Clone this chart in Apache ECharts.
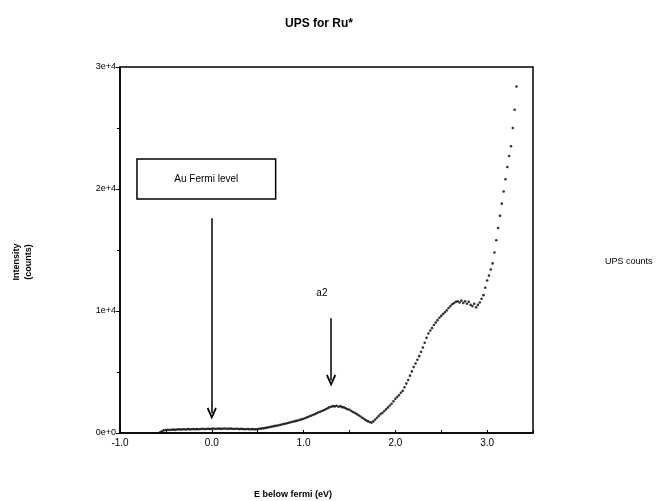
<!DOCTYPE html>
<html>
<head>
<meta charset="utf-8">
<script src="https://cdn.jsdelivr.net/npm/echarts@6/dist/echarts.min.js"></script>
<style>
  html, body { margin: 0; padding: 0; background: #fff; }
  #chart { width: 664px; height: 501px; }
</style>
</head>
<body>
<div id="chart"></div>
<script>
// energy below fermi (eV)
const energy = [
  -0.56, -0.54, -0.52, -0.50, -0.48, -0.46, -0.44, -0.42, -0.40, -0.38,
  -0.36, -0.34, -0.32, -0.30, -0.28, -0.26, -0.24, -0.22, -0.20, -0.18,
  -0.16, -0.14, -0.12, -0.10, -0.08, -0.06, -0.04, -0.02, 0.00, 0.02,
  0.04, 0.06, 0.08, 0.10, 0.12, 0.14, 0.16, 0.18, 0.20, 0.22,
  0.24, 0.26, 0.28, 0.30, 0.32, 0.34, 0.36, 0.38, 0.40, 0.42,
  0.44, 0.46, 0.48, 0.50, 0.52, 0.54, 0.56, 0.58, 0.60, 0.62,
  0.64, 0.66, 0.68, 0.70, 0.72, 0.74, 0.76, 0.78, 0.80, 0.82,
  0.84, 0.86, 0.88, 0.90, 0.92, 0.94, 0.96, 0.98, 1.00, 1.02,
  1.04, 1.06, 1.08, 1.10, 1.12, 1.14, 1.16, 1.18, 1.20, 1.22,
  1.24, 1.26, 1.28, 1.30, 1.32, 1.34, 1.36, 1.38, 1.40, 1.42,
  1.44, 1.46, 1.48, 1.50, 1.52, 1.54, 1.56, 1.58, 1.60, 1.62,
  1.64, 1.66, 1.68, 1.70, 1.72, 1.74, 1.76, 1.78, 1.80, 1.82,
  1.84, 1.86, 1.88, 1.90, 1.92, 1.94, 1.96, 1.98, 2.00, 2.02,
  2.04, 2.06, 2.08, 2.10, 2.12, 2.14, 2.16, 2.18, 2.20, 2.22,
  2.24, 2.26, 2.28, 2.30, 2.32, 2.34, 2.36, 2.38, 2.40, 2.42,
  2.44, 2.46, 2.48, 2.50, 2.52, 2.54, 2.56, 2.58, 2.60, 2.62,
  2.64, 2.66, 2.68, 2.70, 2.72, 2.74, 2.76, 2.78, 2.80, 2.82,
  2.84, 2.86, 2.88, 2.90, 2.92, 2.94, 2.96, 2.98, 3.00, 3.02,
  3.04, 3.06, 3.08, 3.10, 3.12, 3.14, 3.16, 3.18, 3.20, 3.22,
  3.24, 3.26, 3.28, 3.30, 3.32
]

// UPS counts
const counts = [
  80, 150, 220, 250, 260, 240, 270, 280, 260, 290,
  300, 280, 300, 310, 290, 320, 300, 310, 330, 300,
  320, 310, 330, 340, 320, 330, 350, 330, 340, 360,
  330, 350, 360, 340, 350, 370, 350, 340, 360, 350,
  330, 350, 340, 320, 340, 330, 310, 330, 320, 300,
  320, 310, 300, 320, 340, 360, 380, 410, 440, 470,
  500, 530, 560, 590, 620, 660, 690, 730, 760, 800,
  840, 880, 920, 950, 990, 1030, 1080, 1120, 1170, 1230,
  1290, 1350, 1410, 1480, 1540, 1610, 1680, 1740, 1800, 1870,
  1950, 2020, 2100, 2150, 2200, 2180, 2230, 2150, 2200, 2120,
  2100, 2020, 1950, 1900, 1800, 1720, 1640, 1550, 1450, 1350,
  1250, 1150, 1050, 970, 900, 850, 950, 1100, 1250, 1400,
  1550, 1650, 1800, 1950, 2100, 2250, 2400, 2600, 2800, 2950,
  3100, 3300, 3450, 3750, 4050, 4350, 4700, 5050, 5400, 5700,
  6000, 6300, 6650, 7000, 7400, 7800, 8150, 8400, 8600, 8850,
  9050, 9250, 9450, 9600, 9750, 9900, 10050, 10250, 10400, 10550,
  10650, 10750, 10800, 10700, 10850, 10650, 10800, 10600, 10750, 10500,
  10400, 10600, 10300, 10500, 10700, 11000, 11300, 11900, 12500, 12900,
  13400, 13900, 14800, 15800, 16800, 17800, 18800, 19800, 20800, 21800,
  22700, 23500, 25000, 26500, 28400
]

const yTickLabels = ['0e+0', '1e+4', '2e+4', '3e+4']

const points = energy.map((e, i) => [e, counts[i]])

const font = 'Liberation Sans'
const arrowHead = 'path://M0,11 L6,0 L12,11 L10,12 L6,4 L2,12 Z'

let myChart = echarts.init(document.getElementById('chart'))
myChart.setOption({
    animation: false,
    backgroundColor: '#fff',
    title: {
        text: 'UPS for Ru*',
        left: 314,
        top: 13,
        textAlign: 'center',
        textStyle: { fontFamily: font, fontSize: 12, fontWeight: 'bold', color: '#000' },
    },
    legend: {
        data: ['UPS counts'],
        left: 595,
        top: 252,
        itemWidth: 0,
        itemHeight: 0,
        textStyle: { fontFamily: font, fontSize: 9, color: '#000' },
    },
    grid: {
        left: 120,
        right: 131,
        top: 67,
        bottom: 68,
        show: true,
        borderColor: '#000',
        borderWidth: 1.5,
        outerBoundsMode: 'none',
    },
    xAxis: {
        type: 'value',
        min: -1,
        max: 3.5,
        interval: 1,
        axisLine: { onZero: false, lineStyle: { color: '#000', width: 1.5 } },
        axisTick: { inside: true, length: 3, lineStyle: { color: '#000' } },
        minorTick: { show: true, splitNumber: 2, length: 3, lineStyle: { color: '#000' } },
        splitLine: { show: false },
        axisLabel: {
            showMaxLabel: false,
            margin: 5,
            fontFamily: font,
            fontSize: 10,
            color: '#000',
            formatter: (v) => v.toFixed(1),
        },
    },
    yAxis: {
        type: 'value',
        min: 0,
        max: 30000,
        interval: 10000,
        axisLine: { onZero: false, lineStyle: { color: '#000', width: 1.5 } },
        axisTick: { length: 4, lineStyle: { color: '#000' } },
        minorTick: { show: true, splitNumber: 2, length: 3, lineStyle: { color: '#000' } },
        splitLine: { show: false },
        axisLabel: {
            margin: 4,
            fontFamily: font,
            fontSize: 9,
            color: '#000',
            formatter: (v) => yTickLabels[Math.round(v / 10000)],
        },
    },
    graphic: [
        {
            type: 'text',
            x: 23,
            y: 262,
            rotation: Math.PI / 2,
            style: {
                text: 'Intensity\n(counts)',
                align: 'center',
                verticalAlign: 'middle',
                fontFamily: font,
                fontSize: 9,
                fontWeight: 'bold',
                lineHeight: 12,
                fill: '#000',
            },
        },
        {
            type: 'text',
            x: 293,
            y: 495,
            style: {
                text: 'E below fermi (eV)',
                align: 'center',
                verticalAlign: 'middle',
                fontFamily: font,
                fontSize: 9,
                fontWeight: 'bold',
                fill: '#000',
            },
        },
    ],
    series: [
        {
            name: 'UPS counts',
            type: 'scatter',
            symbolSize: 2.6,
            itemStyle: { color: '#000' },
            data: points,
            markArea: {
                silent: true,
                itemStyle: { color: '#fff', borderColor: '#000', borderWidth: 1.5 },
                label: {
                    show: true,
                    position: 'inside',
                    fontFamily: font,
                    fontSize: 10,
                    color: '#000',
                },
                data: [[
                    { name: 'Au Fermi level', coord: [-0.815, 22460] },
                    { coord: [0.696, 19180] },
                ]],
            },
            markLine: {
                silent: true,
                symbol: ['none', arrowHead],
                symbolSize: [10, 12],
                lineStyle: { color: '#000', width: 1.5, type: 'solid' },
                label: { show: false },
                data: [
                    [{ coord: [0, 17600] }, { coord: [0, 1600] }],
                    [{ coord: [1.3, 9400] }, { coord: [1.3, 4300] }],
                ],
            },
            markPoint: {
                silent: true,
                symbolSize: 0,
                label: {
                    show: true,
                    position: 'inside',
                    fontFamily: font,
                    fontSize: 10,
                    color: '#000',
                    formatter: '{b}',
                },
                data: [{ name: 'a2', coord: [1.2, 11475] }],
            },
        },
    ],
})
</script>
</body>
</html>
